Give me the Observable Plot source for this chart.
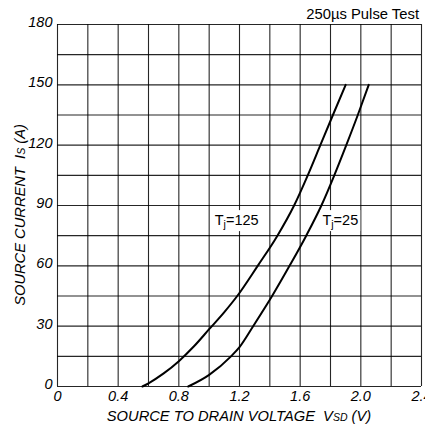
<!DOCTYPE html>
<html><head><meta charset="utf-8">
<script src="https://cdn.jsdelivr.net/npm/d3@7"></script>
<script src="https://cdn.jsdelivr.net/npm/@observablehq/plot@0.6"></script>
<style>
body{margin:0;background:#fff;}
svg{font-family:"Liberation Sans",Arial,sans-serif;}
</style>
</head><body>
<div id="chart"></div>
<script>
// Data
const vsd125 = [0.56, 0.6, 0.7, 0.8, 0.9, 1.0, 1.1, 1.185, 1.32, 1.45, 1.56, 1.65, 1.733, 1.816, 1.9];
const is125  = [0,    1.6, 6.5, 12.6, 20, 28.5, 37, 45,    60,   75,   90,   105,  120,   135,   150];
const vsd25  = [0.862, 1.0, 1.144, 1.2, 1.29, 1.415, 1.53, 1.64, 1.74, 1.825, 1.904, 1.98, 2.052];
const is25   = [0,     5.8, 15,    19.6, 30,  45,    60,   75,   90,   105,   120,   135,  150];
const xGrid = [0, 0.2, 0.4, 0.6, 0.8, 1.0, 1.2, 1.4, 1.6, 1.8, 2.0, 2.2, 2.4];
const yGrid = [0, 15, 30, 45, 60, 75, 90, 105, 120, 135, 150, 165, 180];
const xTicks = [0, 0.4, 0.8, 1.2, 1.6, 2.0, 2.4];
const xTickLabels = ["0", "0.4", "0.8", "1.2", "1.6", "2.0", "2.4"];
const yTicks = [0, 30, 60, 90, 120, 150, 180];
const seriesLabels = [{name: "125", x: 1.04, y: 80}, {name: "25", x: 1.75, y: 80}];

const d125 = vsd125.map((v, i) => ({v, i: is125[i]}));
const d25 = vsd25.map((v, i) => ({v, i: is25[i]}));

const plot = Plot.plot({
  width: 425, height: 432,
  marginLeft: 57, marginRight: 4, marginTop: 24, marginBottom: 46,
  style: {fontFamily: "Liberation Sans, Arial, sans-serif", fontSize: "14.5px", background: "#fff"},
  x: {domain: [0, 2.4]},
  y: {domain: [0, 180]},
  marks: [
    Plot.ruleX(xGrid, {stroke: "#000", strokeWidth: 1.1, strokeOpacity: 0.85}),
    Plot.ruleY(yGrid, {stroke: "#000", strokeWidth: 1.1, strokeOpacity: 0.85}),
    Plot.line(d125, {x: "v", y: "i", curve: "monotone-x", stroke: "#000", strokeWidth: 2}),
    Plot.line(d25, {x: "v", y: "i", curve: "monotone-x", stroke: "#000", strokeWidth: 2}),
    Plot.axisX(xTicks, {tickSize: 0, tickPadding: 4, tickFormat: d => xTickLabels[xTicks.indexOf(d)], fontStyle: "italic", fontSize: 14.5, label: null}),
    Plot.axisY(yTicks, {tickSize: 0, tickPadding: 5, fontStyle: "italic", fontSize: 14.5, dy: -2, label: null})
  ]
});
document.getElementById("chart").append(plot);

const svg = d3.select(plot);
const sx = plot.scale("x"), sy = plot.scale("y");

// series labels with white background
seriesLabels.forEach(s => {
  const px = sx.apply(s.x), py = sy.apply(s.y);
  const g = svg.append("g");
  const t = g.append("text").attr("x", px).attr("y", py).attr("text-anchor", "start")
    .attr("font-size", 14.5).attr("fill", "#000");
  t.append("tspan").text("T");
  t.append("tspan").attr("font-size", 10.5).attr("dy", "3").text("j");
  t.append("tspan").attr("dy", "-3").text("=" + s.name);
  const bb = t.node().getBBox();
  g.insert("rect", "text").attr("x", bb.x - 2).attr("y", bb.y - 2)
    .attr("width", bb.width + 4).attr("height", bb.height + 3).attr("fill", "#fff");
});

// title top right
svg.append("text").attr("x", 419).attr("y", 19).attr("text-anchor", "end")
  .attr("font-size", 14.8).text("250µs Pulse Test");

// x axis label
const xl = svg.append("text").attr("x", 239).attr("y", 421).attr("text-anchor", "middle")
  .attr("font-size", 14.7).attr("font-style", "italic");
xl.append("tspan").text("SOURCE TO DRAIN VOLTAGE  V");
xl.append("tspan").attr("font-size", 10.5).text("SD");
xl.append("tspan").text(" (V)");

// y axis label
const yl = svg.append("text").attr("transform", "translate(25,215) rotate(-90)")
  .attr("text-anchor", "middle").attr("font-size", 14.7).attr("font-style", "italic");
yl.append("tspan").text("SOURCE CURRENT  I");
yl.append("tspan").attr("font-size", 10.5).text("S");
yl.append("tspan").text(" (A)");
</script>
</body></html>
